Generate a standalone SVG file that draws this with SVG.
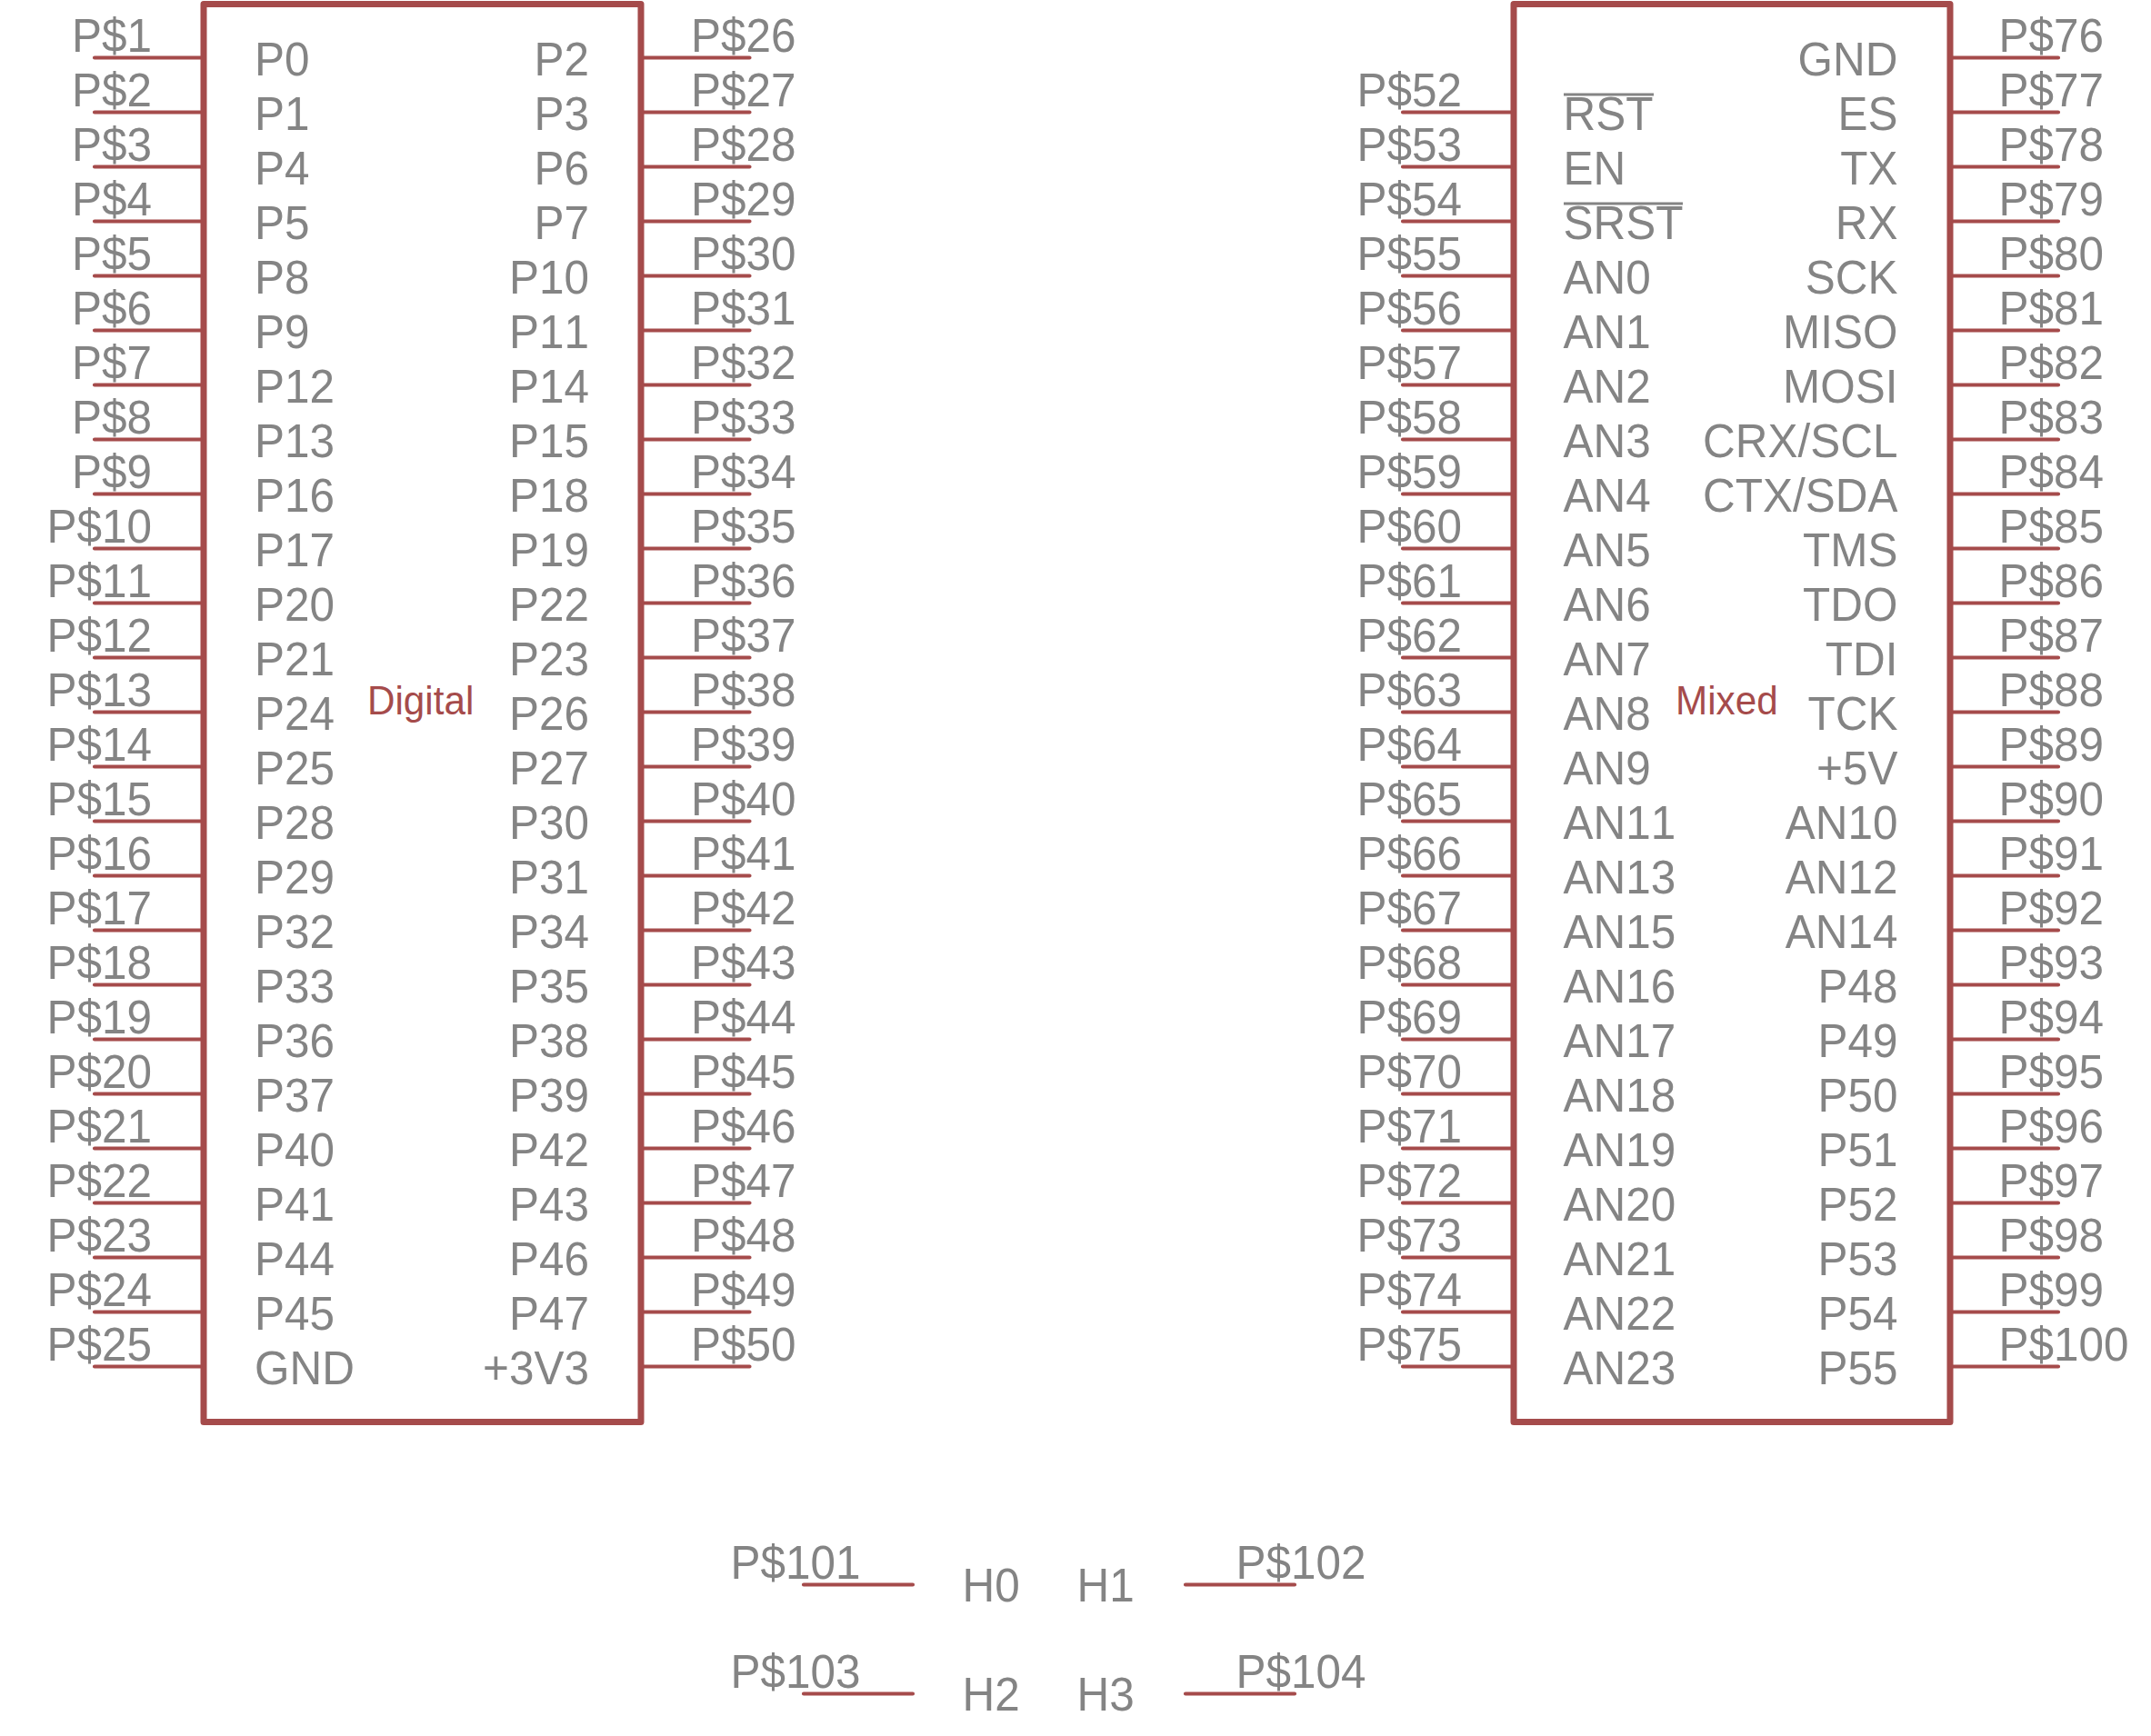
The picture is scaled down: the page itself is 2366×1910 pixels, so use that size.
<svg xmlns="http://www.w3.org/2000/svg" width="2366" height="1910" viewBox="0 0 2366 1910">
<style>
text{font-family:"Liberation Sans",Arial,sans-serif;font-size:51px;fill:#848484;font-kerning:none}
.e text,text.e{text-anchor:end}
text.red{fill:#a54b4b;font-size:44px}
.frame{fill:none;stroke:#a54b4b;stroke-width:7;stroke-linejoin:round;stroke-linecap:round}
.pin{fill:none;stroke:#a54b4b;stroke-width:4.2;stroke-linecap:round}
.bar{fill:none;stroke:#848484;stroke-width:3}
</style>
<rect width="2366" height="1910" fill="#ffffff"/>
<g id="connectors" class="pin">
<path d="M104 63.5H224M104 123.5H224M104 183.5H224M104 243.5H224M104 303.5H224M104 363.5H224M104 423.5H224M104 483.5H224M104 543.5H224M104 603.5H224M104 663.5H224M104 723.5H224M104 783.5H224M104 843.5H224M104 903.5H224M104 963.5H224M104 1023.5H224M104 1083.5H224M104 1143.5H224M104 1203.5H224M104 1263.5H224M104 1323.5H224M104 1383.5H224M104 1443.5H224M104 1503.5H224"/>
<path d="M705 63.5H824.5M705 123.5H824.5M705 183.5H824.5M705 243.5H824.5M705 303.5H824.5M705 363.5H824.5M705 423.5H824.5M705 483.5H824.5M705 543.5H824.5M705 603.5H824.5M705 663.5H824.5M705 723.5H824.5M705 783.5H824.5M705 843.5H824.5M705 903.5H824.5M705 963.5H824.5M705 1023.5H824.5M705 1083.5H824.5M705 1143.5H824.5M705 1203.5H824.5M705 1263.5H824.5M705 1323.5H824.5M705 1383.5H824.5M705 1443.5H824.5M705 1503.5H824.5"/>
<path d="M1543 123.5H1665M1543 183.5H1665M1543 243.5H1665M1543 303.5H1665M1543 363.5H1665M1543 423.5H1665M1543 483.5H1665M1543 543.5H1665M1543 603.5H1665M1543 663.5H1665M1543 723.5H1665M1543 783.5H1665M1543 843.5H1665M1543 903.5H1665M1543 963.5H1665M1543 1023.5H1665M1543 1083.5H1665M1543 1143.5H1665M1543 1203.5H1665M1543 1263.5H1665M1543 1323.5H1665M1543 1383.5H1665M1543 1443.5H1665M1543 1503.5H1665"/>
<path d="M2145 63.5H2264M2145 123.5H2264M2145 183.5H2264M2145 243.5H2264M2145 303.5H2264M2145 363.5H2264M2145 423.5H2264M2145 483.5H2264M2145 543.5H2264M2145 603.5H2264M2145 663.5H2264M2145 723.5H2264M2145 783.5H2264M2145 843.5H2264M2145 903.5H2264M2145 963.5H2264M2145 1023.5H2264M2145 1083.5H2264M2145 1143.5H2264M2145 1203.5H2264M2145 1263.5H2264M2145 1323.5H2264M2145 1383.5H2264M2145 1443.5H2264M2145 1503.5H2264"/>
<path d="M884 1743.5H1004M884 1863.5H1004M1304 1743.5H1424M1304 1863.5H1424"/>
</g>
<g id="digital">
<rect class="frame" x="224" y="4.5" width="481" height="1560"/>
<text class="red" transform="translate(404 785.5) scale(.96 1)">Digital</text>
<g class="e" transform="translate(167 1.5) scale(.97 1)">
<text y="55.5">P$1</text><text y="115.5">P$2</text><text y="175.5">P$3</text><text y="235.5">P$4</text><text y="295.5">P$5</text><text y="355.5">P$6</text><text y="415.5">P$7</text><text y="475.5">P$8</text><text y="535.5">P$9</text><text y="595.5">P$10</text><text y="655.5">P$11</text><text y="715.5">P$12</text><text y="775.5">P$13</text><text y="835.5">P$14</text><text y="895.5">P$15</text><text y="955.5">P$16</text><text y="1015.5">P$17</text><text y="1075.5">P$18</text><text y="1135.5">P$19</text><text y="1195.5">P$20</text><text y="1255.5">P$21</text><text y="1315.5">P$22</text><text y="1375.5">P$23</text><text y="1435.5">P$24</text><text y="1495.5">P$25</text>
</g>
<g transform="translate(280 1.5) scale(.97 1)">
<text y="81.5">P0</text><text y="141.5">P1</text><text y="201.5">P4</text><text y="261.5">P5</text><text y="321.5">P8</text><text y="381.5">P9</text><text y="441.5">P12</text><text y="501.5">P13</text><text y="561.5">P16</text><text y="621.5">P17</text><text y="681.5">P20</text><text y="741.5">P21</text><text y="801.5">P24</text><text y="861.5">P25</text><text y="921.5">P28</text><text y="981.5">P29</text><text y="1041.5">P32</text><text y="1101.5">P33</text><text y="1161.5">P36</text><text y="1221.5">P37</text><text y="1281.5">P40</text><text y="1341.5">P41</text><text y="1401.5">P44</text><text y="1461.5">P45</text><text y="1521.5">GND</text>
</g>
<g class="e" transform="translate(648 1.5) scale(.97 1)">
<text y="81.5">P2</text><text y="141.5">P3</text><text y="201.5">P6</text><text y="261.5">P7</text><text y="321.5">P10</text><text y="381.5">P11</text><text y="441.5">P14</text><text y="501.5">P15</text><text y="561.5">P18</text><text y="621.5">P19</text><text y="681.5">P22</text><text y="741.5">P23</text><text y="801.5">P26</text><text y="861.5">P27</text><text y="921.5">P30</text><text y="981.5">P31</text><text y="1041.5">P34</text><text y="1101.5">P35</text><text y="1161.5">P38</text><text y="1221.5">P39</text><text y="1281.5">P42</text><text y="1341.5">P43</text><text y="1401.5">P46</text><text y="1461.5">P47</text><text y="1521.5">+3V3</text>
</g>
<g transform="translate(760 1.5) scale(.97 1)">
<text y="55.5">P$26</text><text y="115.5">P$27</text><text y="175.5">P$28</text><text y="235.5">P$29</text><text y="295.5">P$30</text><text y="355.5">P$31</text><text y="415.5">P$32</text><text y="475.5">P$33</text><text y="535.5">P$34</text><text y="595.5">P$35</text><text y="655.5">P$36</text><text y="715.5">P$37</text><text y="775.5">P$38</text><text y="835.5">P$39</text><text y="895.5">P$40</text><text y="955.5">P$41</text><text y="1015.5">P$42</text><text y="1075.5">P$43</text><text y="1135.5">P$44</text><text y="1195.5">P$45</text><text y="1255.5">P$46</text><text y="1315.5">P$47</text><text y="1375.5">P$48</text><text y="1435.5">P$49</text><text y="1495.5">P$50</text>
</g>
</g>
<g id="mixed">
<rect class="frame" x="1665" y="4.5" width="480" height="1560"/>
<text class="red" transform="translate(1843 785.5) scale(.96 1)">Mixed</text>
<g class="e" transform="translate(1608 1.5) scale(.97 1)">
<text y="115.5">P$52</text><text y="175.5">P$53</text><text y="235.5">P$54</text><text y="295.5">P$55</text><text y="355.5">P$56</text><text y="415.5">P$57</text><text y="475.5">P$58</text><text y="535.5">P$59</text><text y="595.5">P$60</text><text y="655.5">P$61</text><text y="715.5">P$62</text><text y="775.5">P$63</text><text y="835.5">P$64</text><text y="895.5">P$65</text><text y="955.5">P$66</text><text y="1015.5">P$67</text><text y="1075.5">P$68</text><text y="1135.5">P$69</text><text y="1195.5">P$70</text><text y="1255.5">P$71</text><text y="1315.5">P$72</text><text y="1375.5">P$73</text><text y="1435.5">P$74</text><text y="1495.5">P$75</text>
</g>
<path class="bar" d="M1720 104H1819M1720 224H1851"/>
<g transform="translate(1719.5 1.5) scale(.97 1)">
<text y="141.5">RST</text><text y="201.5">EN</text><text y="261.5">SRST</text><text y="321.5">AN0</text><text y="381.5">AN1</text><text y="441.5">AN2</text><text y="501.5">AN3</text><text y="561.5">AN4</text><text y="621.5">AN5</text><text y="681.5">AN6</text><text y="741.5">AN7</text><text y="801.5">AN8</text><text y="861.5">AN9</text><text y="921.5">AN11</text><text y="981.5">AN13</text><text y="1041.5">AN15</text><text y="1101.5">AN16</text><text y="1161.5">AN17</text><text y="1221.5">AN18</text><text y="1281.5">AN19</text><text y="1341.5">AN20</text><text y="1401.5">AN21</text><text y="1461.5">AN22</text><text y="1521.5">AN23</text>
</g>
<g class="e" transform="translate(2087.5 1.5) scale(.97 1)">
<text y="81.5">GND</text><text y="141.5">ES</text><text y="201.5">TX</text><text y="261.5">RX</text><text y="321.5">SCK</text><text y="381.5">MISO</text><text y="441.5">MOSI</text><text y="501.5">CRX/SCL</text><text y="561.5">CTX/SDA</text><text y="621.5">TMS</text><text y="681.5">TDO</text><text y="741.5">TDI</text><text y="801.5">TCK</text><text y="861.5">+5V</text><text y="921.5">AN10</text><text y="981.5">AN12</text><text y="1041.5">AN14</text><text y="1101.5">P48</text><text y="1161.5">P49</text><text y="1221.5">P50</text><text y="1281.5">P51</text><text y="1341.5">P52</text><text y="1401.5">P53</text><text y="1461.5">P54</text><text y="1521.5">P55</text>
</g>
<g transform="translate(2198.5 1.5) scale(.97 1)">
<text y="55.5">P$76</text><text y="115.5">P$77</text><text y="175.5">P$78</text><text y="235.5">P$79</text><text y="295.5">P$80</text><text y="355.5">P$81</text><text y="415.5">P$82</text><text y="475.5">P$83</text><text y="535.5">P$84</text><text y="595.5">P$85</text><text y="655.5">P$86</text><text y="715.5">P$87</text><text y="775.5">P$88</text><text y="835.5">P$89</text><text y="895.5">P$90</text><text y="955.5">P$91</text><text y="1015.5">P$92</text><text y="1075.5">P$93</text><text y="1135.5">P$94</text><text y="1195.5">P$95</text><text y="1255.5">P$96</text><text y="1315.5">P$97</text><text y="1375.5">P$98</text><text y="1435.5">P$99</text><text y="1495.5">P$100</text>
</g>
</g>
<g id="h0"><text transform="translate(803.5 1737) scale(.97 1)">P$101</text><text transform="translate(1058.5 1762) scale(.97 1)">H0</text></g>
<g id="h1"><text transform="translate(1359.5 1737) scale(.97 1)">P$102</text><text transform="translate(1184.5 1762) scale(.97 1)">H1</text></g>
<g id="h2"><text transform="translate(803.5 1857) scale(.97 1)">P$103</text><text transform="translate(1058.5 1882) scale(.97 1)">H2</text></g>
<g id="h3"><text transform="translate(1359.5 1857) scale(.97 1)">P$104</text><text transform="translate(1184.5 1882) scale(.97 1)">H3</text></g>
</svg>
